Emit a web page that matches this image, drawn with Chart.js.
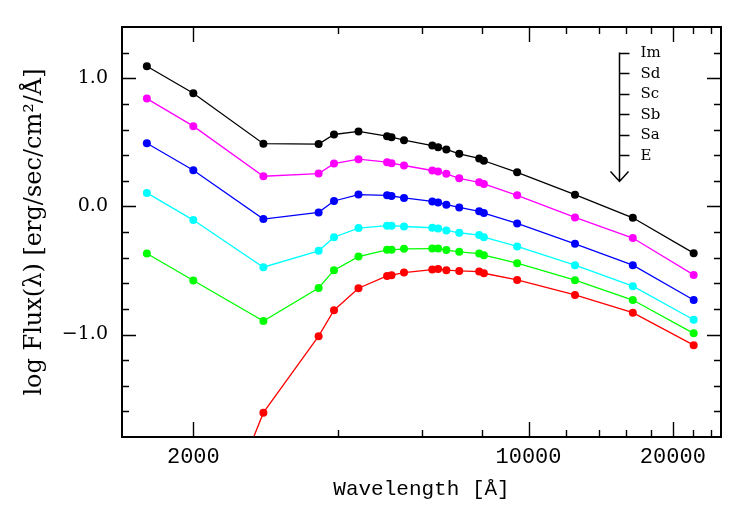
<!DOCTYPE html>
<html>
<head>
<meta charset="utf-8">
<script src="https://cdn.jsdelivr.net/npm/chart.js@4.4.1/dist/chart.umd.min.js"></script>
<style>
html, body { margin: 0; padding: 0; background: #fff; }
</style>
</head>
<body>
<canvas id="sed" width="747" height="515"></canvas>
<script>
// wavelengths of the photometric points, in Angstrom
const wavelength = [1600, 2000, 2800, 3650, 3930, 4420, 5070, 5180, 5500, 6300, 6480, 6740, 7170, 7890, 8070, 9470, 12500, 16500, 22100];

// log flux for each galaxy type
const fluxIm = [1.094, 0.883, 0.489, 0.486, 0.561, 0.585, 0.548, 0.540, 0.517, 0.475, 0.462, 0.444, 0.410, 0.374, 0.356, 0.266, 0.091, -0.089, -0.365];
const fluxSd = [0.841, 0.626, 0.235, 0.256, 0.334, 0.368, 0.345, 0.337, 0.319, 0.280, 0.272, 0.254, 0.219, 0.188, 0.175, 0.086, -0.086, -0.247, -0.535];
const fluxSc = [0.493, 0.282, -0.099, -0.047, 0.042, 0.092, 0.086, 0.081, 0.066, 0.039, 0.031, 0.013, -0.008, -0.039, -0.052, -0.133, -0.292, -0.459, -0.731];
const fluxSb = [0.105, -0.107, -0.475, -0.347, -0.241, -0.169, -0.151, -0.151, -0.157, -0.167, -0.172, -0.188, -0.206, -0.224, -0.240, -0.313, -0.459, -0.623, -0.885];
const fluxSa = [-0.368, -0.579, -0.895, -0.637, -0.498, -0.392, -0.339, -0.339, -0.331, -0.329, -0.329, -0.341, -0.355, -0.368, -0.381, -0.443, -0.576, -0.731, -0.991];
const fluxE  = [null, -2.98, -1.610, -1.013, -0.811, -0.639, -0.543, -0.537, -0.517, -0.493, -0.488, -0.498, -0.504, -0.509, -0.522, -0.574, -0.691, -0.830, -1.083];

const typeNames = ['Im', 'Sd', 'Sc', 'Sb', 'Sa', 'E'];
const typeFlux = [fluxIm, fluxSd, fluxSc, fluxSb, fluxSa, fluxE];
const typeColors = ['#000000', '#ff00ff', '#0000ff', '#00ffff', '#00ff00', '#ff0000'];

// axis ticks
const xMajorTicks = [2000, 10000, 20000];
const xMinorTicks = [4000, 6000, 8000, 12000, 14000, 16000, 18000, 22000, 24000];
const yMajorTicks = [-1, 0, 1];
const yMinorTicks = [-1.6, -1.4, -1.2, -0.8, -0.6, -0.4, -0.2, 0.2, 0.4, 0.6, 0.8, 1.2];

const datasets = typeNames.map((name, i) => ({
    label: name,
    data: wavelength.map((w, j) => ({ x: w, y: typeFlux[i][j] })),
    borderColor: typeColors[i],
    backgroundColor: typeColors[i],
    borderWidth: 1.3,
    pointRadius: 4,
    pointBorderWidth: 0,
    pointBackgroundColor: typeColors[i],
    tension: 0
}));

// frame with inward ticks on all four sides + the type arrow legend
const framePlugin = {
    id: 'frame',
    afterDraw(chart) {
        const ctx = chart.ctx;
        const a = chart.chartArea;
        const xs = chart.scales.x, ys = chart.scales.y;
        ctx.save();
        ctx.strokeStyle = '#000';
        ctx.lineWidth = 1.4;
        ctx.beginPath();
        const xTick = (v, len) => {
            const px = Math.round(xs.getPixelForValue(v)) + 0.5;
            ctx.moveTo(px, a.bottom); ctx.lineTo(px, a.bottom - len);
            ctx.moveTo(px, a.top); ctx.lineTo(px, a.top + len);
        };
        const yTick = (v, len) => {
            const py = Math.round(ys.getPixelForValue(v)) + 0.5;
            ctx.moveTo(a.left, py); ctx.lineTo(a.left + len, py);
            ctx.moveTo(a.right, py); ctx.lineTo(a.right - len, py);
        };
        xMajorTicks.forEach(v => xTick(v, 15));
        xMinorTicks.forEach(v => xTick(v, 7));
        yMajorTicks.forEach(v => yTick(v, 14));
        yMinorTicks.forEach(v => yTick(v, 7));
        ctx.stroke();

        ctx.lineWidth = 2;
        ctx.strokeRect(a.left, a.top, a.right - a.left, a.bottom - a.top);

        // legend arrow
        const ax = 619.5, top = 52.5, step = 20.5, tip = 181.5;
        ctx.lineWidth = 1.5;
        ctx.beginPath();
        ctx.moveTo(ax, top); ctx.lineTo(ax, tip);
        ctx.moveTo(ax - 9, tip - 10); ctx.lineTo(ax, tip); ctx.lineTo(ax + 9, tip - 10);
        typeNames.forEach((n, i) => {
            const y = Math.round(top + i * step) + 0.5;
            ctx.moveTo(ax, y); ctx.lineTo(ax + 10, y);
        });
        ctx.stroke();
        ctx.fillStyle = '#000';
        ctx.font = '15px "DejaVu Serif"';
        ctx.textAlign = 'left';
        ctx.textBaseline = 'middle';
        typeNames.forEach((n, i) => {
            ctx.fillText(n, ax + 21, top + i * step + 1);
        });
        ctx.restore();
    }
};

new Chart(document.getElementById('sed'), {
    type: 'line',
    data: { datasets: datasets },
    plugins: [framePlugin],
    options: {
        responsive: false,
        animation: false,
        devicePixelRatio: 1,
        layout: { padding: { top: 27, right: 26, left: 0, bottom: 0 } },
        plugins: { legend: { display: false }, tooltip: { enabled: false } },
        scales: {
            x: {
                type: 'logarithmic',
                min: 1420,
                max: 25200,
                grid: { display: false, drawTicks: false },
                border: { display: false },
                afterBuildTicks: s => { s.ticks = xMajorTicks.map(v => ({ value: v })); },
                afterFit: s => { s.height = 78; },
                ticks: {
                    color: '#000',
                    padding: 7,
                    maxRotation: 0,
                    autoSkip: false,
                    font: { family: '"Liberation Mono"', size: 22 },
                    callback: v => String(v)
                },
                title: {
                    display: true,
                    text: 'Wavelength [Å]',
                    color: '#000',
                    font: { family: '"Liberation Mono"', size: 21 },
                    padding: { top: 0, bottom: 13 }
                }
            },
            y: {
                type: 'linear',
                min: -1.8,
                max: 1.4,
                grid: { display: false, drawTicks: false },
                border: { display: false },
                afterBuildTicks: s => { s.ticks = yMajorTicks.map(v => ({ value: v })); },
                afterFit: s => { s.width = 122; },
                ticks: {
                    color: '#000',
                    padding: 14,
                    font: { family: '"DejaVu Serif"', size: 19 },
                    callback: v => (v < 0 ? '\u2212' : '') + Math.abs(v).toFixed(1)
                },
                title: {
                    display: true,
                    text: 'log Flux(λ) [erg/sec/cm²/Å]',
                    color: '#000',
                    font: { family: '"DejaVu Serif"', size: 24 },
                    padding: { top: 20, bottom: 0 }
                }
            }
        }
    }
});
</script>
</body>
</html>
